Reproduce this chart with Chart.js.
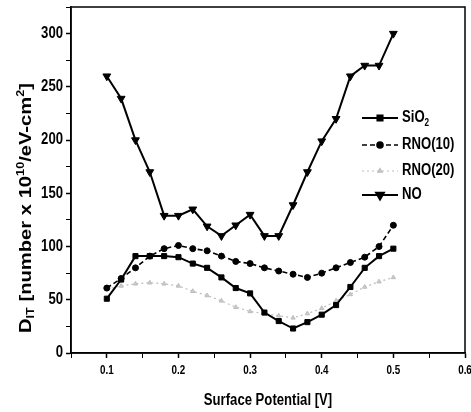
<!DOCTYPE html>
<html>
<head>
<meta charset="utf-8">
<script src="https://cdn.jsdelivr.net/npm/chart.js@4.4.1/dist/chart.umd.min.js"></script>
<style>
html,body{margin:0;padding:0;background:#fff;}
#wrap{width:471px;height:412px;}
</style>
</head>
<body>
<div id="wrap"><canvas id="c" width="471" height="412"></canvas></div>
<script>
// ---- data ----
const surfacePotential = [0.10,0.12,0.14,0.16,0.18,0.20,0.22,0.24,0.26,0.28,0.30,0.32,0.34,0.36,0.38,0.40,0.42,0.44,0.46,0.48,0.50];
const sio2   = [51,69,91,91,91,90,84,80,71,61,56,38,30,23,29,36,45,62,80,91,98];
const rno10  = [61,70,80,91,98,101,98,96,91,86,84,80,77,74,71,75,80,85,90,100,120];
const rno20  = [60,63,65,66,65,63,58,54,49,43,39,37,35,33,37,42,49,55,62,67,71];
const no     = [260,239,200,170,129,129,135,119,110,120,130,110,110,139,170,199,220,260,270,270,300];
const seriesNames = ['SiO2','RNO(10)','RNO(20)','NO'];
const xTickLabels = ['0.1','0.2','0.3','0.4','0.5','0.6'];
const yTickLabels = ['0','50','100','150','200','250','300'];
const xTickMin = 0.05, xTickMax = 0.6, xStep = 0.05;
const yTickMin = 0, yTickMax = 325, yStep = 25;

const FONT = "'Liberation Sans',Arial,sans-serif";
const SQ = 0.82; // horizontal condensation to mimic a narrow face

function pts(ys){ return surfacePotential.map((x,i)=>({x:x,y:ys[i]})); }

const datasets = [
  {label:seriesNames[0], data:pts(sio2), borderColor:'#000', backgroundColor:'#000', borderWidth:2,
   pointStyle:'rect', pointRadius:3.6, pointBorderWidth:1},
  {label:seriesNames[1], data:pts(rno10), borderColor:'#000', backgroundColor:'#000', borderWidth:1.6, borderDash:[5,3],
   pointStyle:'circle', pointRadius:3, pointBorderWidth:1},
  {label:seriesNames[2], data:pts(rno20), borderColor:'#bdbdbd', backgroundColor:'#cccccc', borderWidth:1.2, borderDash:[2,3],
   pointStyle:'triangle', pointRadius:2.5, pointBorderWidth:1},
  {label:seriesNames[3], data:pts(no), borderColor:'#000', backgroundColor:'#000', borderWidth:2,
   pointStyle:'triangle', pointRotation:180, pointRadius:4.5, pointBorderWidth:1}
];

// draw text condensed horizontally, anchored at (x,y)
function condensedText(ctx, text, x, y, font, align, sx){
  ctx.save();
  ctx.font = font;
  ctx.translate(x, y);
  ctx.scale(sx||SQ, 1);
  ctx.textAlign = align;
  ctx.fillText(text, 0, 0);
  ctx.restore();
}

function richWidth(ctx, segs){
  let t = 0;
  segs.forEach(s=>{ ctx.font = s.font; t += ctx.measureText(s.t).width; });
  return t;
}
function drawRich(ctx, segs, x, y){
  let cx = x;
  segs.forEach(s=>{
    ctx.font = s.font;
    ctx.fillText(s.t, cx, y + (s.dy||0));
    cx += ctx.measureText(s.t).width;
  });
}

const framePlugin = {
  id:'frame',
  afterDraw(chart){
    const {ctx, chartArea:a} = chart;
    ctx.save();
    ctx.strokeStyle = '#000';
    ctx.lineWidth = 1.5;
    ctx.strokeRect(a.left, a.top, a.right-a.left, a.bottom-a.top);
    ctx.restore();
  }
};

const labelsPlugin = {
  id:'labels',
  afterDraw(chart){
    const ctx = chart.ctx;
    const xs = chart.scales.x, ys = chart.scales.y;
    ctx.save();
    ctx.fillStyle = '#000';
    ctx.textBaseline = 'middle';
    xTickLabels.forEach(l=>{
      condensedText(ctx, l, xs.getPixelForValue(parseFloat(l)), 371, "bold 12px "+FONT, 'center');
    });
    yTickLabels.forEach(l=>{
      condensedText(ctx, l, 63, ys.getPixelForValue(parseFloat(l)), "bold 16px "+FONT, 'right');
    });
    // x-axis title
    ctx.textBaseline = 'alphabetic';
    condensedText(ctx, 'Surface Potential [V]', 268, 405, "bold 16px "+FONT, 'center');
    // y-axis title (rotated), fitted to the reference span
    const f = "bold 16px " + FONT, fs = "bold 10px " + FONT;
    const segs = [
      {t:'D', font:f},
      {t:'IT', font:fs, dy:3},
      {t:' [number x 10', font:f},
      {t:'10', font:fs, dy:-7},
      {t:'/eV-cm', font:f},
      {t:'2', font:fs, dy:-7},
      {t:']', font:f}
    ];
    const w = richWidth(ctx, segs);
    const target = 250;
    ctx.translate(31, 208);
    ctx.rotate(-Math.PI/2);
    ctx.scale(target/w, 1);
    drawRich(ctx, segs, -w/2, 0);
    ctx.restore();
  }
};

const legendPlugin = {
  id:'insideLegend',
  afterDraw(chart){
    const ctx = chart.ctx;
    const rowsY = [118,145,171,195];
    const x0 = 362, x1 = 398, tx = 402;
    ctx.save();
    chart.data.datasets.forEach((ds,i)=>{
      const y = rowsY[i];
      ctx.strokeStyle = ds.borderColor;
      ctx.lineWidth = ds.borderWidth;
      ctx.setLineDash(ds.borderDash || []);
      ctx.beginPath(); ctx.moveTo(x0,y); ctx.lineTo(x1,y); ctx.stroke();
      ctx.setLineDash([]);
      ctx.fillStyle = ds.backgroundColor;
      Chart.helpers.drawPoint(ctx, {pointStyle:ds.pointStyle, radius:ds.pointRadius, rotation:ds.pointRotation||0, borderWidth:1},
        (x0+x1)/2, y);
      ctx.fillStyle = '#000';
      ctx.textBaseline = 'middle';
      const f = "bold 16px " + FONT;
      if (ds.label === 'SiO2') {
        ctx.save();
        ctx.translate(tx, y);
        ctx.scale(SQ, 1);
        drawRich(ctx, [{t:'SiO', font:f},{t:'2', font:"bold 10px "+FONT, dy:5}], 0, 0);
        ctx.restore();
      } else {
        condensedText(ctx, ds.label, tx, y, f, 'left');
      }
    });
    ctx.restore();
  }
};

new Chart(document.getElementById('c'), {
  type:'line',
  data:{datasets:datasets},
  options:{
    responsive:false,
    animation:false,
    devicePixelRatio:1,
    layout:{padding:{top:7, right:6, left:0, bottom:0}},
    plugins:{legend:{display:false}, tooltip:{enabled:false}, title:{display:false}},
    elements:{line:{tension:0, fill:false}},
    scales:{
      x:{
        type:'linear', min:xTickMin, max:xTickMax,
        border:{display:true, color:'#000', width:1.5},
        grid:{display:true, drawOnChartArea:false, drawTicks:true, tickLength:5, tickColor:'#000',
              tickWidth:(c)=> (Math.abs(c.tick.value*10-Math.round(c.tick.value*10))<1e-6 ? 1.5 : 1)},
        ticks:{display:false, stepSize:xStep, autoSkip:false},
        afterFit:(s)=>{ s.height = 59; s.paddingLeft = 0; s.paddingRight = 0; }
      },
      y:{
        type:'linear', min:yTickMin, max:yTickMax,
        border:{display:true, color:'#000', width:1.5},
        grid:{display:true, drawOnChartArea:false, drawTicks:true, tickLength:5, tickColor:'#000',
              tickWidth:(c)=> (c.tick.value%50===0 ? 1.5 : 1)},
        ticks:{display:false, stepSize:yStep, autoSkip:false},
        afterFit:(s)=>{ s.width = 71; s.paddingTop = 0; s.paddingBottom = 0; }
      }
    }
  },
  plugins:[framePlugin, labelsPlugin, legendPlugin]
});
</script>
</body>
</html>
